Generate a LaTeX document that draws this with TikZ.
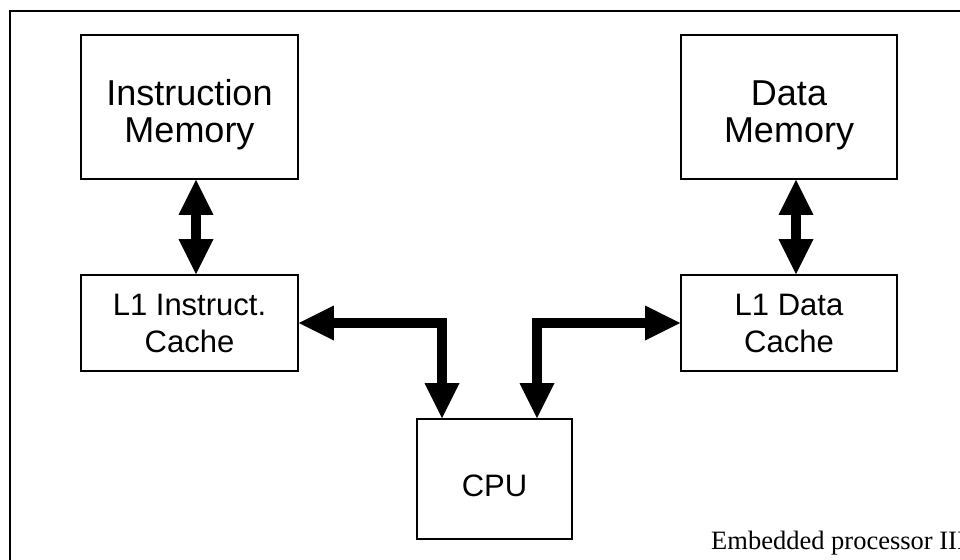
\documentclass[tikz,border=0pt]{standalone}
\usepackage{fontspec}
\setmainfont{Liberation Sans}
\newfontfamily\footserif{Liberation Serif}
\usetikzlibrary{arrows.meta}

% invisible strut that sets the height of a label's first line
\newcommand\toppad[1]{\rule{0pt}{#1}}

\tikzset{
  block/.style={draw, line width=1.8pt, inner sep=0pt, align=center},
  membox/.style={block, minimum width=217pt, minimum height=144pt,
                 font={\fontsize{36}{37}\selectfont}},
  cachebox/.style={block, minimum width=217pt, minimum height=96pt,
                 font={\fontsize{31}{37}\selectfont}},
  cpubox/.style={block, minimum width=155pt, minimum height=120pt,
                 font={\fontsize{31}{37}\selectfont}},
  bus/.style={line width=10pt, line join=miter,
              {Triangle[length=35pt,width=35pt,line width=0pt]}-{Triangle[length=35pt,width=35pt,line width=0pt]}},
}

\begin{document}
\begin{tikzpicture}[x=1pt,y=-1pt]
  \useasboundingbox (0,0) rectangle (960,559);
  \clip (0,0) rectangle (960,559);

  % page frame, running off the right and bottom edges
  \draw[line width=2pt] (9.5,580) -- (9.5,11.5) -- (990,11.5);

  % memories
  \node[membox] (imem) at (189.5,107) {\toppad{40.6pt}Instruction\\Memory};
  \node[membox, minimum width=216pt] (dmem) at (789,107) {\toppad{40.6pt}Data\\Memory};

  % first-level caches
  \node[cachebox] (icache) at (189.5,323) {L1 Instruct.\\Cache};
  \node[cachebox, minimum width=216pt] (dcache) at (789,323) {L1 Data\\Cache};

  % processor
  \node[cpubox] (cpu) at (494.5,479) {\toppad{36pt}CPU};

  % memory <-> cache buses
  \draw[bus] ([xshift=6.5pt]imem.south) -- ([xshift=6.5pt]icache.north);
  \draw[bus] ([xshift=7pt]dmem.south) -- ([xshift=7pt]dcache.north);

  % cache <-> CPU buses
  \draw[bus] (icache.east) -| ([xshift=-52.5pt]cpu.north);
  \draw[bus] (dcache.west) -| ([xshift=42.5pt]cpu.north);

  % footer
  \node[anchor=base west, inner sep=0pt, font={\footserif\fontsize{26.5}{26.5}\selectfont}]
    (footer) at (711,549) {Embedded processor III};
\end{tikzpicture}
\end{document}
